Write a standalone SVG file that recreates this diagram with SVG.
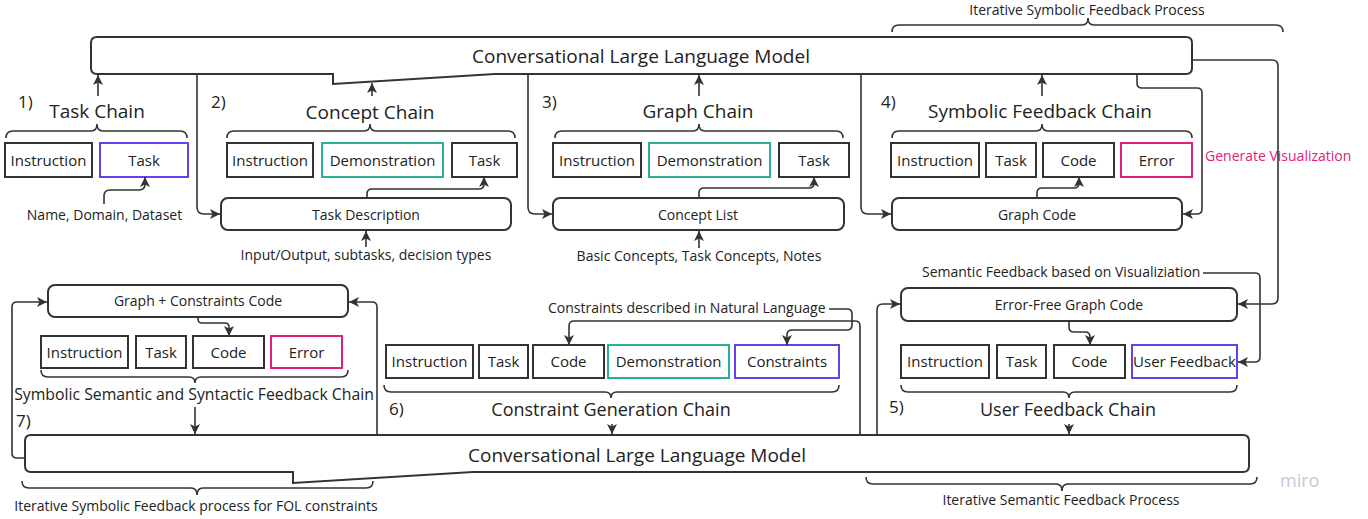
<svg xmlns="http://www.w3.org/2000/svg" width="1368" height="519" viewBox="0 0 1368 519">
<style>
text{font-family:"Open Sans","Liberation Sans",sans-serif;fill:#222}
.llm{fill:#fff;stroke:#333;stroke-width:2}
.box{fill:#fff;stroke:#333;stroke-width:2}
.rbox{fill:#fff;stroke:#333;stroke-width:2}
.teal{stroke:#2aae96}
.purple{stroke:#6a3df0}
.pink{stroke:#e0217a}
.c{fill:none;stroke:#333;stroke-width:1.6}
.a{marker-end:url(#arr)}
.brace{fill:none;stroke:#333;stroke-width:1.6}
.t19{font-size:19px;text-anchor:middle}
.t18{font-size:18px;text-anchor:middle}
.t16{font-size:15.8px;text-anchor:middle}
.t15{font-size:15px;text-anchor:middle}
.t14{font-size:14px;text-anchor:middle}
.t13{font-size:14px;text-anchor:middle}
.num{font-size:17px}
</style>
<defs>
<marker id="arr" markerUnits="userSpaceOnUse" markerWidth="11" markerHeight="11" refX="10" refY="5.5" orient="auto">
<path d="M0,0.5 L10,5.5 L0,10.5 L2.5,5.5 Z" fill="#333"/>
</marker>
</defs>

<g id="llm-top">
<path class="llm" d="M97,37 H1186 Q1192,37 1192,43 V68 Q1192,74 1186,74 H495 L333,84 V74 H97 Q91,74 91,68 V43 Q91,37 97,37 Z"/>
<text class="t19" x="641" y="63">Conversational Large Language Model</text>
</g>

<g id="llm-bottom">
<path class="llm" d="M31,435 H1243 Q1249,435 1249,441 V466 Q1249,472 1243,472 H473 L293,483 V472 H31 Q25,472 25,466 V441 Q25,435 31,435 Z"/>
<text class="t19" x="637" y="462">Conversational Large Language Model</text>
</g>

<g id="iter-symbolic-top">
<path class="brace" d="M892,32 Q892,25 899,25 H1082 Q1088,25 1088,18 Q1088,25 1094,25 H1276 Q1283,25 1283,32"/>
<text class="t13" x="1087" y="15">Iterative Symbolic Feedback Process</text>
</g>

<g id="task-chain">
<text class="num" x="18" y="108">1)</text>
<text class="t19" x="97" y="118">Task Chain</text>
<path class="brace" d="M6,138 Q6,131 13,131 H91 Q97,131 97,124 Q97,131 103,131 H180 Q187,131 187,138"/>
<rect class="box" x="5" y="143" width="87" height="34"/>
<text class="t15" x="48.5" y="165.5">Instruction</text>
<rect class="box purple" x="100" y="143" width="88" height="34"/>
<text class="t15" x="144" y="165.5">Task</text>
<text class="t14" x="104.5" y="220">Name, Domain, Dataset</text>
</g>

<g id="concept-chain">
<text class="num" x="211" y="108">2)</text>
<text class="t19" x="370" y="119">Concept Chain</text>
<path class="brace" d="M227,138 Q227,131 234,131 H364 Q370,131 370,124 Q370,131 376,131 H508 Q515,131 515,138"/>
<rect class="box" x="227" y="143" width="86" height="34"/>
<text class="t15" x="270" y="165.5">Instruction</text>
<rect class="box teal" x="322" y="143" width="121" height="34"/>
<text class="t15" x="382.5" y="165.5">Demonstration</text>
<rect class="box" x="452" y="143" width="65" height="34"/>
<text class="t15" x="484.5" y="165.5">Task</text>
<rect class="rbox" x="221" y="198" width="290" height="32" rx="7"/>
<text class="t14" x="366" y="220">Task Description</text>
<text class="t14" x="366" y="260">Input/Output, subtasks, decision types</text>
</g>

<g id="graph-chain">
<text class="num" x="542" y="108">3)</text>
<text class="t19" x="698" y="118">Graph Chain</text>
<path class="brace" d="M555,138 Q555,131 562,131 H693 Q699,131 699,124 Q699,131 705,131 H836 Q843,131 843,138"/>
<rect class="box" x="553" y="143" width="88" height="34"/>
<text class="t15" x="597" y="165.5">Instruction</text>
<rect class="box teal" x="649" y="143" width="121" height="34"/>
<text class="t15" x="709.5" y="165.5">Demonstration</text>
<rect class="box" x="779" y="143" width="70" height="34"/>
<text class="t15" x="814" y="165.5">Task</text>
<rect class="rbox" x="553" y="198" width="291" height="32" rx="7"/>
<text class="t14" x="698" y="220">Concept List</text>
<text class="t14" x="699" y="261">Basic Concepts, Task Concepts, Notes</text>
</g>

<g id="symbolic-feedback-chain">
<text class="num" x="881" y="108">4)</text>
<text class="t19" x="1040" y="118">Symbolic Feedback Chain</text>
<path class="brace" d="M892,138 Q892,131 899,131 H1036 Q1042,131 1042,124 Q1042,131 1048,131 H1185 Q1192,131 1192,138"/>
<rect class="box" x="891" y="143" width="88" height="34"/>
<text class="t15" x="935" y="165.5">Instruction</text>
<rect class="box" x="986" y="143" width="50" height="34"/>
<text class="t15" x="1011" y="165.5">Task</text>
<rect class="box" x="1043" y="143" width="71" height="34"/>
<text class="t15" x="1078.5" y="165.5">Code</text>
<rect class="box pink" x="1121" y="143" width="71" height="34"/>
<text class="t15" x="1156.5" y="165.5">Error</text>
<rect class="rbox" x="892" y="198" width="290" height="32" rx="7"/>
<text class="t14" x="1037" y="220">Graph Code</text>
<text x="1205" y="161" style="font-size:14px;fill:#e0217a">Generate Visualization</text>
</g>

<g id="syntactic-feedback-chain">
<rect class="rbox" x="48" y="285" width="300" height="32" rx="7"/>
<text class="t14" x="198" y="306">Graph + Constraints Code</text>
<rect class="box" x="41" y="336" width="87" height="32"/>
<text class="t15" x="84.5" y="358">Instruction</text>
<rect class="box" x="136" y="336" width="50" height="32"/>
<text class="t15" x="161" y="358">Task</text>
<rect class="box" x="193" y="336" width="71" height="32"/>
<text class="t15" x="228.5" y="358">Code</text>
<rect class="box pink" x="271" y="336" width="71" height="32"/>
<text class="t15" x="306.5" y="358">Error</text>
<path class="brace" d="M41,370 Q41,377 48,377 H189 Q195,377 195,383 Q195,377 201,377 H341 Q348,377 348,370"/>
<text class="t16" x="194" y="400">Symbolic Semantic and Syntactic Feedback Chain</text>
<text class="num" x="16" y="427">7)</text>
</g>

<g id="constraint-generation-chain">
<text x="548" y="313" style="font-size:14px">Constraints described in Natural Language</text>
<rect class="box" x="386" y="345" width="87" height="33"/>
<text class="t15" x="429.5" y="367">Instruction</text>
<rect class="box" x="479" y="345" width="49" height="33"/>
<text class="t15" x="503.5" y="367">Task</text>
<rect class="box" x="533" y="345" width="71" height="33"/>
<text class="t15" x="568.5" y="367">Code</text>
<rect class="box teal" x="608" y="345" width="121" height="33"/>
<text class="t15" x="668.5" y="367">Demonstration</text>
<rect class="box purple" x="735" y="345" width="104" height="33"/>
<text class="t15" x="787" y="367">Constraints</text>
<path class="brace" d="M384,385 Q384,392 391,392 H605 Q611,392 611,398 Q611,392 617,392 H832 Q839,392 839,385"/>
<text class="num" x="389" y="415">6)</text>
<text class="t18" x="611" y="416">Constraint Generation Chain</text>
</g>

<g id="user-feedback-chain">
<text x="922" y="277" style="font-size:14px">Semantic Feedback based on Visualiziation</text>
<rect class="rbox" x="901" y="288" width="336" height="33" rx="7"/>
<text class="t14" x="1069" y="310">Error-Free Graph Code</text>
<rect class="box" x="901" y="345" width="88" height="33"/>
<text class="t15" x="945" y="367">Instruction</text>
<rect class="box" x="997" y="345" width="49" height="33"/>
<text class="t15" x="1021.5" y="367">Task</text>
<rect class="box" x="1054" y="345" width="71" height="33"/>
<text class="t15" x="1089.5" y="367">Code</text>
<rect class="box purple" x="1132" y="345" width="105" height="33"/>
<text class="t15" x="1184.5" y="367">User Feedback</text>
<path class="brace" d="M901,385 Q901,392 908,392 H1063 Q1069,392 1069,398 Q1069,392 1075,392 H1230 Q1237,392 1237,385"/>
<text class="num" x="889" y="413">5)</text>
<text class="t18" x="1068" y="416">User Feedback Chain</text>
</g>

<g id="iter-symbolic-fol">
<path class="brace" d="M22,481 Q22,488 29,488 H191 Q197,488 197,495 Q197,488 203,488 H366 Q373,488 373,481"/>
<text class="t13" x="196" y="511">Iterative Symbolic Feedback process for FOL constraints</text>
</g>

<g id="iter-semantic">
<path class="brace" d="M866,477 Q866,484 873,484 H1056 Q1062,484 1062,491 Q1062,484 1068,484 H1250 Q1257,484 1257,477"/>
<text class="t13" x="1061" y="505">Iterative Semantic Feedback Process</text>
</g>

<text x="1280" y="487" style="font-size:18px;fill:#c9c6d8">miro</text>

<g id="connectors">
<path class="c a" d="M98,96 V75"/>
<path class="c a" d="M372,96 V83"/>
<path class="c a" d="M699,96 V75"/>
<path class="c a" d="M1042,96 V75"/>
<path class="c a" d="M104,204 V196 Q104,190 110,190 H139 Q145,190 145,184 V177"/>
<path class="c a" d="M367,198 V194 Q367,189 372,189 H479 Q484,189 484,184 V177"/>
<path class="c a" d="M699,198 V193 Q699,188 704,188 H809 Q814,188 814,183 V177"/>
<path class="c a" d="M1037,198 V193 Q1037,188 1042,188 H1074 Q1079,188 1079,183 V177"/>
<path class="c a" d="M366,247 V231"/>
<path class="c a" d="M699,248 V231"/>
<path class="c a" d="M197,75 V207 Q197,214 204,214 H220"/>
<path class="c a" d="M528,75 V207 Q528,214 535,214 H552"/>
<path class="c a" d="M861,75 V207 Q861,214 868,214 H891"/>
<path class="c a" d="M1137,75 V83 Q1137,88 1142,88 H1197 Q1202,88 1202,93 V209 Q1202,214 1197,214 H1183"/>
<path class="c a" d="M1193,60 H1272 Q1278,60 1278,66 V298 Q1278,304 1272,304 H1238"/>
<path class="c a" d="M1203,273 H1255 Q1260,273 1260,278 V357 Q1260,362 1255,362 H1238"/>
<path class="c a" d="M1069,321 V327 Q1069,332 1074,332 H1085 Q1090,332 1090,337 V345"/>
<path class="c a" d="M877,435 V310 Q877,304 883,304 H900"/>
<path class="c a" d="M860,435 V326 Q860,321 855,321 H574 Q569,321 569,326 V345"/>
<path class="c a" d="M829,309 H847 Q852,309 852,314 V325 Q852,330 847,330 H792 Q787,330 787,335 V345"/>
<path class="c a" d="M198,317 V319 Q198,323 202,323 H225 Q229,323 229,327 V336"/>
<path class="c a" d="M25,458 H17 Q12,458 12,453 V307 Q12,302 17,302 H47"/>
<path class="c a" d="M377,435 V307 Q377,302 372,302 H349"/>
<path class="c a" d="M195,407 V434"/>
<path class="c a" d="M612,424 V434"/>
<path class="c a" d="M1069,424 V434"/>
</g>
</svg>
